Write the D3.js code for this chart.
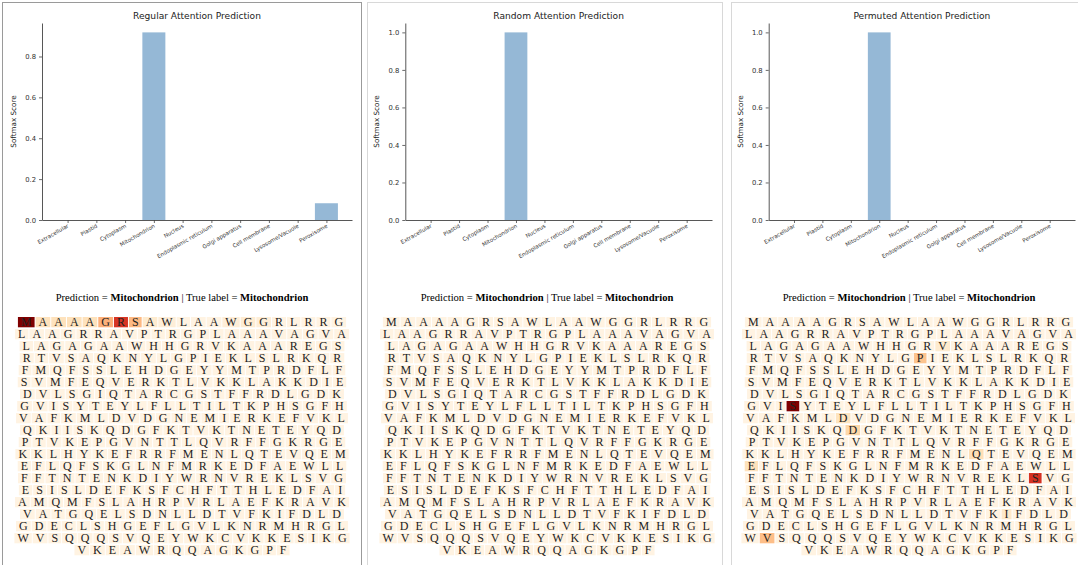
<!DOCTYPE html>
<html>
<head>
<meta charset="utf-8">
<script src="https://cdn.jsdelivr.net/npm/d3@7"></script>
<style>
  html, body { margin: 0; padding: 0; background: #fff; }
  svg { display: block; }
</style>
</head>
<body>
<svg id="chart"></svg>
<script>
// ---- data ----
const categories = ['Extracellular', 'Plastid', 'Cytoplasm', 'Mitochondrion', 'Nucleus',
    'Endoplasmic reticulum', 'Golgi apparatus', 'Cell membrane', 'Lysosome/Vacuole', 'Peroxisome'];
const regularScores = [0, 0, 0, 0.918, 0, 0, 0, 0, 0, 0.082];
const randomScores = [0, 0, 0, 1.0, 0, 0, 0, 0, 0, 0];
const permutedScores = [0, 0, 0, 1.0, 0, 0, 0, 0, 0, 0];
const yTicksRegular = [0, 0.2, 0.4, 0.6, 0.8];
const yTicksOther = [0, 0.2, 0.4, 0.6, 0.8, 1.0];
const panelTitles = ['Regular Attention Prediction', 'Random Attention Prediction', 'Permuted Attention Prediction'];
const predictedLabel = 'Mitochondrion';
const trueLabel = 'Mitochondrion';

// protein sequence, as wrapped in the reference
const seqRows = [
    'MAAAAGRSAWLAAWGGRLRRG',
    'LAAGRRAVPTRGPLAAAVAGVA',
    'LAGAGAAWHHGRVKAAAREGS',
    'RTVSAQKNYLGPIEKLSLRKQR',
    'FMQFSSLEHDGEYYMTPRDFLF',
    'SVMFEQVERKTLVKKLAKKDIE',
    'DVLSGIQTARCGSTFFRDLGDK',
    'GVISYTEYLFLLTILTKPHSGFH',
    'VAFKMLDVDGNEMIERKEFVKL',
    'QKIISKQDGFKTVKTNETEYQD',
    'PTVKEPGVNTTLQVRFFGKRGE',
    'KKLHYKEFRRFMENLQTEVQEM',
    'EFLQFSKGLNFMRKEDFAEWLL',
    'FFTNTENKDIYWRNVREKLSVG',
    'ESISLDEFKSFCHFTTHLEDFAI',
    'AMQMFSLAHRPVRLAEFKRAVK',
    'VATGQELSDNLLDTVFKIFDLD',
    'GDECLSHGEFLGVLKNRMHRGL',
    'WVSQQQSVQEYWKCVKKESIKG',
    'VKEAWRQQAGKGPF'
];

// attention weight of every residue not listed below
const baseAttention = 0.035;
// [residue index, attention weight]
const regularAttention = [[0, 1.0], [1, 0.16], [2, 0.16], [3, 0.16], [4, 0.16], [5, 0.4],
    [6, 0.74], [7, 0.37], [8, 0.1], [9, 0.07], [13, 0.07], [14, 0.09], [15, 0.07]];
const randomAttention = [];
const permutedAttention = [[55, 0.1], [75, 0.33], [155, 1.0], [181, 0.15], [204, 0.22],
    [256, 0.18], [263, 0.16], [304, 0.75], [369, 0.12], [397, 0.35]];

class ScoreBarChart {
    constructor(_config, _data) {
        this.config = {
            parent: _config.parent,
            left: _config.left,
            right: _config.right,
            top: _config.top || 23,
            bottom: _config.bottom || 220,
            title: _config.title,
            yTicks: _config.yTicks
        };
        this.data = _data;
        this.initVis();
    }

    initVis() {
        let vis = this;
        let c = vis.config;

        vis.xScale = d3.scaleLinear()
            .domain([-0.89, categories.length - 1 + 0.89])
            .range([c.left, c.right]);

        vis.yScale = d3.scaleLinear()
            .domain([0, d3.max(vis.data) * 1.05])
            .range([c.bottom, c.top]);

        vis.g = c.parent.append('g').attr('class', 'bar-chart');

        vis.xAxis = d3.axisBottom(vis.xScale)
            .tickValues(d3.range(categories.length))
            .tickFormat(i => categories[i])
            .tickSize(3)
            .tickSizeOuter(0);

        vis.yAxis = d3.axisLeft(vis.yScale)
            .tickValues(c.yTicks)
            .tickFormat(d3.format('.1f'))
            .tickSize(3)
            .tickPadding(3)
            .tickSizeOuter(0);

        vis.renderVis();
    }

    renderVis() {
        let vis = this;
        let c = vis.config;
        let bw = vis.xScale(0.8) - vis.xScale(0);

        vis.g.selectAll('.bar')
            .data(vis.data)
            .join('rect')
            .attr('class', 'bar')
            .attr('x', (d, i) => vis.xScale(i) - bw / 2)
            .attr('width', bw)
            .attr('y', d => vis.yScale(d))
            .attr('height', d => vis.yScale(0) - vis.yScale(d))
            .attr('fill', '#95b8d6');

        let xg = vis.g.append('g')
            .attr('transform', `translate(0,${c.bottom})`)
            .call(vis.xAxis);
        xg.selectAll('text')
            .attr('font-family', 'DejaVu Sans, sans-serif')
            .attr('font-size', 5.5)
            .attr('fill', '#333')
            .attr('text-anchor', 'end')
            .attr('dy', null)
            .attr('y', 0)
            .attr('transform', function () {
                let x = +d3.select(this).attr('x') || 0;
                return `translate(${x + 1},7) rotate(-30)`;
            })
            .attr('x', 0);

        let yg = vis.g.append('g')
            .attr('transform', `translate(${c.left},0)`)
            .call(vis.yAxis);
        yg.selectAll('text')
            .attr('font-family', 'DejaVu Sans, sans-serif')
            .attr('font-size', 6.8)
            .attr('fill', '#333');

        [xg, yg].forEach(g => {
            g.select('.domain').attr('stroke', '#444').attr('stroke-width', 0.9);
            g.selectAll('.tick line').attr('stroke', '#444').attr('stroke-width', 0.8);
        });

        vis.g.append('text')
            .attr('x', (c.left + c.right) / 2)
            .attr('y', 19)
            .attr('text-anchor', 'middle')
            .attr('font-family', 'DejaVu Sans, sans-serif')
            .attr('font-size', 9.1)
            .attr('fill', '#222')
            .text(c.title);

        vis.g.append('text')
            .attr('transform', `translate(${c.left - 26},${(c.top + c.bottom) / 2}) rotate(-90)`)
            .attr('text-anchor', 'middle')
            .attr('font-family', 'DejaVu Sans, sans-serif')
            .attr('font-size', 7.2)
            .attr('fill', '#222')
            .text('Softmax Score');
    }
}

class SequenceAttention {
    constructor(_config, _weights) {
        this.config = {
            parent: _config.parent,
            centerX: _config.centerX,
            headerY: _config.headerY || 300.5,
            firstBaseline: _config.firstBaseline || 326,
            lineStep: 12,
            padX: 3,
            gap: 1,
            fontSize: 12
        };
        this.weights = new Map(_weights);
        this.initVis();
    }

    initVis() {
        let vis = this;
        vis.color = d3.scaleSequential(d3.interpolateOrRd).domain([0, 1]);
        vis.g = vis.config.parent.append('g').attr('class', 'sequence');
        vis.renderVis();
    }

    renderVis() {
        let vis = this;
        let c = vis.config;

        let header = vis.g.append('text')
            .attr('x', c.centerX)
            .attr('y', c.headerY)
            .attr('text-anchor', 'middle')
            .attr('font-family', 'Liberation Serif, Times New Roman, serif')
            .attr('font-size', 10.6)
            .attr('fill', '#000');
        header.append('tspan').text('Prediction = ');
        header.append('tspan').attr('font-weight', 'bold').text(predictedLabel);
        header.append('tspan').text(' | True label = ');
        header.append('tspan').attr('font-weight', 'bold').text(trueLabel);

        let offset = 0;
        seqRows.forEach((row, r) => {
            let letters = row.split('').map((ch, i) => ({ch, idx: offset + i}));
            offset += row.length;
            let baseline = c.firstBaseline + r * c.lineStep;
            let rowG = vis.g.append('g');

            let rects = rowG.selectAll('rect').data(letters).join('rect');
            let texts = rowG.selectAll('text').data(letters).join('text')
                .attr('y', baseline)
                .attr('text-anchor', 'middle')
                .attr('font-family', 'Liberation Serif, Times New Roman, serif')
                .attr('font-size', c.fontSize)
                .attr('fill', '#222')
                .text(d => d.ch);

            texts.each(function (d) { d.w = this.getComputedTextLength() + 2 * c.padX; });
            let total = d3.sum(letters, d => d.w) + c.gap * (letters.length - 1);
            let x = c.centerX - total / 2;
            letters.forEach(d => { d.x = x; x += d.w + c.gap; });

            texts.attr('x', d => d.x + d.w / 2);
            rects
                .attr('x', d => d.x)
                .attr('width', d => d.w)
                .attr('y', baseline - 9)
                .attr('height', 10.3)
                .attr('fill', d => vis.color(vis.weights.has(d.idx) ? vis.weights.get(d.idx) : baseAttention));
        });
    }
}

const svg = d3.select('#chart').attr('width', 1078).attr('height', 565);

// panel frames
const frames = [
    {x: 2.5, y: 2.5, w: 359, h: 570, stroke: '#9a9a9a'},
    {x: 367.5, y: 2.5, w: 355, h: 570, stroke: '#d8d8d8'},
    {x: 731.5, y: 2.5, w: 355, h: 570, stroke: '#d8d8d8'}
];
svg.selectAll('.frame')
    .data(frames)
    .join('rect')
    .attr('class', 'frame')
    .attr('x', d => d.x).attr('y', d => d.y)
    .attr('width', d => d.w).attr('height', d => d.h)
    .attr('fill', 'none')
    .attr('stroke', d => d.stroke);

new ScoreBarChart({parent: svg, left: 42, right: 352, title: panelTitles[0], yTicks: yTicksRegular}, regularScores);
new ScoreBarChart({parent: svg, left: 405.3, right: 712, title: panelTitles[1], yTicks: yTicksOther}, randomScores);
new ScoreBarChart({parent: svg, left: 768.7, right: 1075, title: panelTitles[2], yTicks: yTicksOther}, permutedScores);

new SequenceAttention({parent: svg, centerX: 182}, regularAttention);
new SequenceAttention({parent: svg, centerX: 547}, randomAttention);
new SequenceAttention({parent: svg, centerX: 909}, permutedAttention);
</script>
</body>
</html>
